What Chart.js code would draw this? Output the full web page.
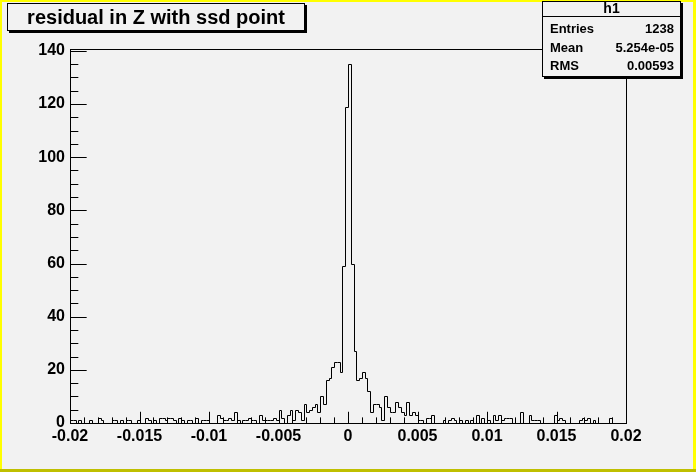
<!DOCTYPE html>
<html>
<head>
<meta charset="utf-8">
<script src="https://cdn.jsdelivr.net/npm/chart.js@4.4.1/dist/chart.umd.min.js"></script>
<style>
html,body{margin:0;padding:0;background:#f2f2f2;}
canvas{display:block;}
</style>
</head>
<body>
<canvas id="c" width="696" height="472"></canvas>
<script>
// histogram h1: 200 bins from -0.02 to 0.02
const X_MIN = -0.02, X_MAX = 0.02;
const Y_MAX = 140.7;
const X_TICK_STEP = 0.005, X_MINOR_STEP = 0.001;
const Y_TICK_STEP = 20, Y_MINOR_STEP = 5;
const counts = [
  1,1,0,1,0,0,0,1,0,0, 2,1,0,0,0,1,1,0,1,0,
  1,1,0,0,1,0,0,2,1,0, 1,0,2,2,1,2,2,1,0,2,
  1,0,1,1,0,2,0,1,1,1, 0,0,0,3,2,1,1,2,1,4,
  1,0,1,1,2,1,1,0,3,1, 1,1,1,2,1,5,2,0,3,5,
  1,5,4,1,7,4,5,6,7,4, 10,7,16,17,21,23,23,19,59,119,
  135,60,27,16,17,19,17,12,4,7, 7,6,1,10,6,4,4,8,6,4,
  3,8,3,4,3,1,1,0,2,2, 3,0,0,0,1,0,1,2,1,0,
  1,0,1,0,1,0,3,0,2,0, 1,0,3,1,3,1,2,2,2,0,
  0,0,4,0,0,3,1,1,1,0, 0,0,0,0,3,1,2,1,0,0,
  0,0,0,1,2,1,2,0,1,0, 0,0,0,0,2,0,0,0,0,0
];
const TITLE = "residual in Z with ssd point";
const STATS_NAME = "h1";
const statLabels = ["Entries", "Mean", "RMS"];
const statValues = ["1238", "5.254e-05", "0.00593"];

const BG = "#f2f2f2";
const FONT = "'Liberation Sans', Arial, Helvetica, sans-serif";
const binW = (X_MAX - X_MIN) / counts.length;

// step outline: left edge of each bin, closed to zero at both ends
const pts = [{x: X_MIN, y: 0}];
counts.forEach((c, i) => pts.push({x: X_MIN + i * binW, y: c}));
pts.push({x: X_MAX, y: 0});

function fmtX(v){ const s = parseFloat(v.toFixed(4)); return String(s === 0 ? 0 : s); }

function box(ctx, x, y, w, h, sh){
  ctx.fillStyle = "#000"; ctx.fillRect(x + sh, y + sh, w, h);
  ctx.fillStyle = BG; ctx.fillRect(x, y, w, h);
  ctx.strokeStyle = "#000"; ctx.lineWidth = 1;
  ctx.strokeRect(x + 0.5, y + 0.5, w - 1, h - 1);
}

const rootLook = {
  id: "rootLook",
  beforeDraw(chart){
    const ctx = chart.ctx, W = chart.width, H = chart.height;
    ctx.save();
    ctx.fillStyle = BG; ctx.fillRect(0, 0, W, H);
    ctx.fillStyle = "#ffff00";
    ctx.fillRect(0, 0, W, 2); ctx.fillRect(0, 0, 2, H); ctx.fillRect(W - 3, 0, 3, H);
    ctx.fillStyle = "#bfbf00";
    ctx.fillRect(0, H - 3, W, 3);
    ctx.restore();
  },
  beforeDatasetsDraw(chart){
    // snap the outline to whole pixels so it stays a crisp 1px line like ROOT
    chart.getDatasetMeta(0).data.forEach(p => {
      p.x = Math.round(p.x) + 0.5;
      p.y = Math.round(p.y) + 0.5;
    });
  },
  afterDatasetsDraw(chart){
    const ctx = chart.ctx, a = chart.chartArea;
    const xs = chart.scales.x, ys = chart.scales.y;
    const L = Math.round(a.left), R = Math.round(a.right), T = Math.round(a.top), B = Math.round(a.bottom);
    ctx.save();
    ctx.strokeStyle = "#000"; ctx.lineWidth = 1;
    ctx.strokeRect(L + 0.5, T + 0.5, R - L, B - T);
    ctx.beginPath();
    const xw = R - L, yh = B - T;
    for (let k = 0; k <= Math.round((X_MAX - X_MIN) / X_MINOR_STEP); k++){
      const v = X_MIN + k * X_MINOR_STEP;
      const major = k % Math.round(X_TICK_STEP / X_MINOR_STEP) === 0;
      const px = Math.round(xs.getPixelForValue(v)) + 0.5;
      const len = major ? 0.03 * yh : 0.015 * yh;
      ctx.moveTo(px, B); ctx.lineTo(px, B - len);
    }
    for (let k = 0; k * Y_MINOR_STEP <= Y_MAX; k++){
      const v = k * Y_MINOR_STEP;
      const major = v % Y_TICK_STEP === 0;
      const py = Math.round(ys.getPixelForValue(v)) + 0.5;
      const len = major ? 0.03 * xw : 0.015 * xw;
      ctx.moveTo(L, py); ctx.lineTo(L + len, py);
    }
    ctx.stroke();
    ctx.restore();
  },
  afterDraw(chart){
    const ctx = chart.ctx;
    ctx.save();
    // title pave
    box(ctx, 7, 3, 298, 28, 2);
    ctx.fillStyle = "#000";
    ctx.font = "bold 20px " + FONT;
    ctx.textAlign = "center"; ctx.textBaseline = "middle";
    ctx.fillText(TITLE, 7 + 149, 3 + 15);
    // stats box
    const sx = 542, sy = 1, sw = 139, sh = 76;
    box(ctx, sx, sy, sw, sh, 2);
    ctx.beginPath(); ctx.moveTo(sx, 16.5); ctx.lineTo(sx + sw, 16.5); ctx.stroke();
    ctx.fillStyle = "#000";
    ctx.font = "bold 14px " + FONT;
    ctx.textAlign = "center";
    ctx.fillText(STATS_NAME, sx + sw / 2, 9);
    ctx.font = "bold 13px " + FONT;
    const rowY = [29.5, 48, 66.5];
    statLabels.forEach((lab, i) => {
      ctx.textAlign = "left"; ctx.fillText(lab, sx + 8, rowY[i]);
      ctx.textAlign = "right"; ctx.fillText(statValues[i], sx + sw - 7, rowY[i]);
    });
    ctx.restore();
  }
};

new Chart(document.getElementById("c"), {
  type: "line",
  data: {
    datasets: [{
      data: pts,
      stepped: "before",
      borderColor: "#000",
      borderWidth: 1,
      pointRadius: 0,
      fill: false,
      tension: 0
    }]
  },
  options: {
    responsive: false,
    animation: false,
    devicePixelRatio: 1,
    layout: { padding: { top: 49, right: 70, left: 0, bottom: 0 } },
    plugins: { legend: { display: false }, tooltip: { enabled: false } },
    scales: {
      x: {
        type: "linear", min: X_MIN, max: X_MAX,
        afterFit: s => { s.height = 49; },
        grid: { display: false, drawTicks: false },
        border: { display: false },
        ticks: {
          stepSize: X_TICK_STEP, includeBounds: false, autoSkip: false, maxRotation: 0,
          padding: 4, color: "#000", font: { family: FONT, size: 16, weight: "bold" },
          callback: v => fmtX(v)
        }
      },
      y: {
        type: "linear", min: 0, max: Y_MAX,
        afterFit: s => { s.width = 70; },
        grid: { display: false, drawTicks: false },
        border: { display: false },
        ticks: {
          stepSize: Y_TICK_STEP, includeBounds: false,
          padding: 5, color: "#000", font: { family: FONT, size: 16, weight: "bold" }
        }
      }
    }
  },
  plugins: [rootLook]
});
</script>
</body>
</html>
